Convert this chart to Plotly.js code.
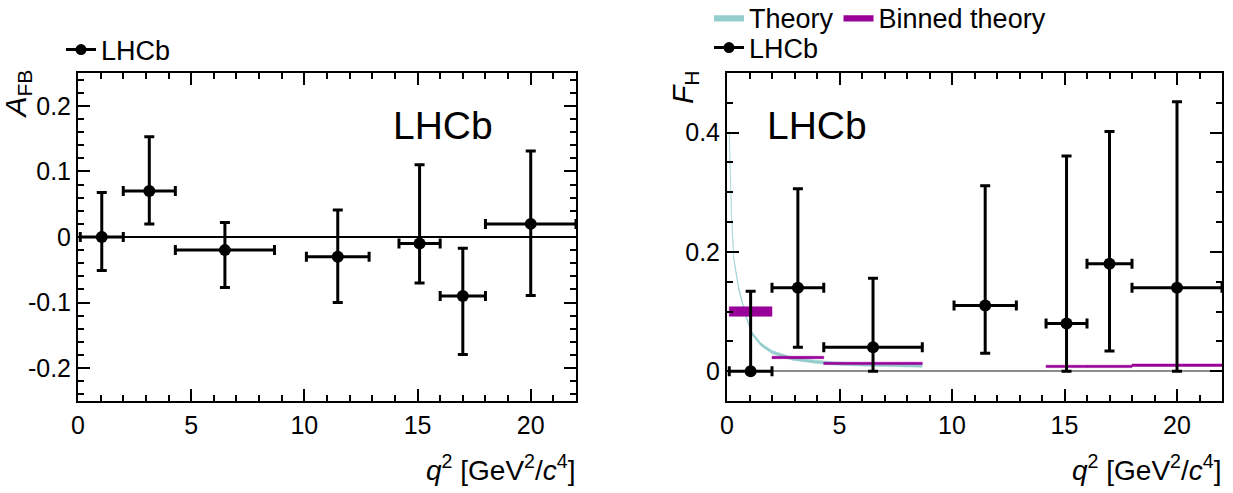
<!DOCTYPE html>
<html>
<head>
<meta charset="utf-8">
<script src="https://cdn.plot.ly/plotly-3.0.1.min.js"></script>
<style>
  html, body { margin: 0; padding: 0; background: #fff; }
  #plot { width: 1233px; height: 493px; }
</style>
</head>
<body>
<div id="plot"></div>
<script>
// q^2 bins of the measurement [GeV^2/c^4]
const binLo = [0.1, 2.0, 4.3, 10.09, 14.18, 16.0, 18.0];
const binHi = [2.0, 4.3, 8.68, 12.86, 16.0, 18.0, 22.0];

// Forward-backward asymmetry A_FB
const afb      = [0.00, 0.07, -0.02, -0.03, -0.01, -0.09, 0.02];
const afbErrUp = [0.068, 0.083, 0.042, 0.071, 0.120, 0.073, 0.111];
const afbErrDn = [0.051, 0.050, 0.057, 0.070, 0.060, 0.089, 0.109];

// Flat parameter F_H
const fh      = [0.00, 0.14, 0.04, 0.11, 0.08, 0.18, 0.14];
const fhErrUp = [0.134, 0.166, 0.116, 0.201, 0.281, 0.222, 0.312];
const fhErrDn = [0.000, 0.100, 0.040, 0.080, 0.080, 0.146, 0.140];

// Theory prediction for F_H (continuous)
const thQ  = [0.1, 0.15, 0.2, 0.3, 0.5, 0.8, 1.1, 1.5, 2.0, 2.9, 3.9, 4.8, 6.0, 7.5, 8.68];
const thFH = [0.40, 0.32, 0.26, 0.19, 0.142, 0.097, 0.064, 0.045, 0.032, 0.021, 0.016, 0.013, 0.011, 0.010, 0.009];
const thHalfWidth = 0.0025;

// Binned theory prediction for F_H
const thBinLo  = [0.1, 2.0, 4.3, 14.18, 16.0, 18.0];
const thBinHi  = [2.0, 4.3, 8.68, 16.0, 18.0, 22.0];
const thBinVal = [0.100, 0.023, 0.013, 0.008, 0.008, 0.010];
const thBinErr = [0.008, 0.002, 0.002, 0.002, 0.002, 0.002];

// Axis ticks
const xTickVals = [0, 5, 10, 15, 20];
const xTickText = ['0', '5', '10', '15', '20'];
const afbTickVals = [-0.2, -0.1, 0, 0.1, 0.2];
const afbTickText = ['-0.2', '-0.1', '0', '0.1', '0.2'];
const fhTickVals = [0, 0.2, 0.4];
const fhTickText = ['0', '0.2', '0.4'];

const FONT = 'Liberation Sans, Arial, Helvetica, sans-serif';
const W = 1233, H = 493;
const teal = 'rgb(150,206,206)';
const purple = 'rgb(153,0,153)';

const binCentre = binLo.map((lo, i) => (lo + binHi[i]) / 2);
const binHalf = binLo.map((lo, i) => (binHi[i] - lo) / 2);

function dataTrace(y, up, dn, xa, ya) {
  return {
    type: 'scatter', mode: 'markers', x: binCentre, y: y,
    xaxis: xa, yaxis: ya, showlegend: false, hoverinfo: 'x+y',
    marker: { color: 'black', size: 12 },
    error_x: { type: 'data', array: binHalf, color: 'black', thickness: 3, width: 5 },
    error_y: { type: 'data', symmetric: false, array: up, arrayminus: dn,
               color: 'black', thickness: 3, width: 5 }
  };
}

function legendEntry(name, legend) {
  return {
    type: 'scatter', mode: 'lines+markers', x: [null], y: [null], name: name,
    legend: legend, xaxis: 'x', yaxis: 'y',
    line: { color: 'black', width: 3 }, marker: { color: 'black', size: 11 }
  };
}

// Binned theory boxes as closed polygons
const boxX = [], boxY = [];
thBinLo.forEach((lo, i) => {
  const hi = thBinHi[i], y0 = thBinVal[i] - thBinErr[i], y1 = thBinVal[i] + thBinErr[i];
  boxX.push(lo, hi, hi, lo, lo, null);
  boxY.push(y0, y0, y1, y1, y0, null);
});

const traces = [
  // left panel
  dataTrace(afb, afbErrUp, afbErrDn, 'x', 'y'),
  legendEntry('LHCb', 'legend'),
  // right panel
  {
    type: 'scatter', mode: 'lines', x: thQ, y: thFH.map(v => v - thHalfWidth),
    xaxis: 'x2', yaxis: 'y2', showlegend: false, hoverinfo: 'skip',
    line: { color: teal, width: 0.5 }
  },
  {
    type: 'scatter', mode: 'lines', x: thQ, y: thFH.map(v => v + thHalfWidth),
    xaxis: 'x2', yaxis: 'y2', name: 'Theory', legend: 'legend2',
    fill: 'tonexty', fillcolor: teal, line: { color: teal, width: 0.5 }
  },
  {
    type: 'scatter', mode: 'lines', x: boxX, y: boxY,
    xaxis: 'x2', yaxis: 'y2', name: 'Binned theory', legend: 'legend2',
    fill: 'toself', fillcolor: purple, line: { color: purple, width: 0.5 }
  },
  dataTrace(fh, fhErrUp, fhErrDn, 'x2', 'y2'),
  legendEntry('LHCb', 'legend3')
];

const tickFont = { family: FONT, size: 25, color: 'black' };

function xAxis(domain, anchor) {
  return {
    domain: domain, anchor: anchor, range: [0, 22], fixedrange: true,
    showline: true, linecolor: 'black', linewidth: 2, mirror: 'ticks',
    showgrid: false, zeroline: false,
    ticks: 'inside', ticklen: 12, tickwidth: 2, tickcolor: 'black',
    tickvals: xTickVals, ticktext: xTickText, tickfont: tickFont,
    ticklabelstandoff: 1,
    minor: { dtick: 1, ticks: 'inside', ticklen: 6, tickwidth: 2, tickcolor: 'black', showgrid: false }
  };
}

function yAxis(domain, anchor, range, vals, text, minor, zcol, zw) {
  return {
    domain: domain, anchor: anchor, range: range, fixedrange: true,
    showline: true, linecolor: 'black', linewidth: 2, mirror: 'ticks',
    showgrid: false, zeroline: true, zerolinecolor: zcol, zerolinewidth: zw,
    ticks: 'inside', ticklen: 12, tickwidth: 2, tickcolor: 'black',
    tickvals: vals, ticktext: text, tickfont: tickFont,
    minor: { dtick: minor, tick0: 0, ticks: 'inside', ticklen: 6, tickwidth: 2, tickcolor: 'black', showgrid: false }
  };
}

const yDom = [1 - 401 / H, 1 - 73 / H];
const legFont = { family: FONT, size: 27, color: 'black' };

const layout = {
  width: W, height: H,
  margin: { l: 0, r: 0, t: 0, b: 0, autoexpand: false },
  paper_bgcolor: 'white', plot_bgcolor: 'white',
  font: { family: FONT, color: 'black' },
  xaxis: xAxis([78 / W, 576 / W], 'y'),
  yaxis: yAxis(yDom, 'x', [-0.25, 0.25], afbTickVals, afbTickText, 0.02, 'black', 1.5),
  xaxis2: xAxis([727 / W, 1222 / W], 'y2'),
  yaxis2: yAxis(yDom, 'x2', [-0.05, 0.5], fhTickVals, fhTickText, 0.05, 'rgb(140,140,140)', 2),
  legend: { x: 61 / W, y: 1 - 50 / H, xanchor: 'left', yanchor: 'middle',
            bgcolor: 'rgba(0,0,0,0)', font: legFont, borderwidth: 0 },
  legend2: { x: 709 / W, y: 1 - 18 / H, xanchor: 'left', yanchor: 'middle', orientation: 'h',
             traceorder: 'normal', bgcolor: 'rgba(0,0,0,0)', font: legFont, borderwidth: 0 },
  legend3: { x: 709 / W, y: 1 - 48 / H, xanchor: 'left', yanchor: 'middle',
             bgcolor: 'rgba(0,0,0,0)', font: legFont, borderwidth: 0 },
  annotations: [
    { text: '<i>A</i><sub>FB</sub>', textangle: -90, xref: 'paper', yref: 'paper',
      x: 17 / W, y: 1 - 68 / H, xanchor: 'center', yanchor: 'top', showarrow: false,
      font: { family: FONT, size: 30, color: 'black' } },
    { text: '<i>F</i><sub>H</sub>', textangle: -90, xref: 'paper', yref: 'paper',
      x: 684 / W, y: 1 - 68 / H, xanchor: 'center', yanchor: 'top', showarrow: false,
      font: { family: FONT, size: 30, color: 'black' } },
    { text: '<i>q</i><sup>2</sup> [GeV<sup>2</sup>/<i>c</i><sup>4</sup>]', xref: 'paper', yref: 'paper',
      x: 577 / W, y: 1 - 468 / H, xanchor: 'right', yanchor: 'middle', showarrow: false,
      font: { family: FONT, size: 28, color: 'black' } },
    { text: '<i>q</i><sup>2</sup> [GeV<sup>2</sup>/<i>c</i><sup>4</sup>]', xref: 'paper', yref: 'paper',
      x: 1223 / W, y: 1 - 468 / H, xanchor: 'right', yanchor: 'middle', showarrow: false,
      font: { family: FONT, size: 28, color: 'black' } },
    { text: 'LHCb', xref: 'paper', yref: 'paper', x: 443 / W, y: 1 - 125 / H,
      xanchor: 'center', yanchor: 'middle', showarrow: false,
      font: { family: FONT, size: 39, color: 'black' } },
    { text: 'LHCb', xref: 'paper', yref: 'paper', x: 817 / W, y: 1 - 125 / H,
      xanchor: 'center', yanchor: 'middle', showarrow: false,
      font: { family: FONT, size: 39, color: 'black' } }
  ]
};

Plotly.newPlot('plot', traces, layout, { staticPlot: true, displayModeBar: false });
</script>
</body>
</html>
